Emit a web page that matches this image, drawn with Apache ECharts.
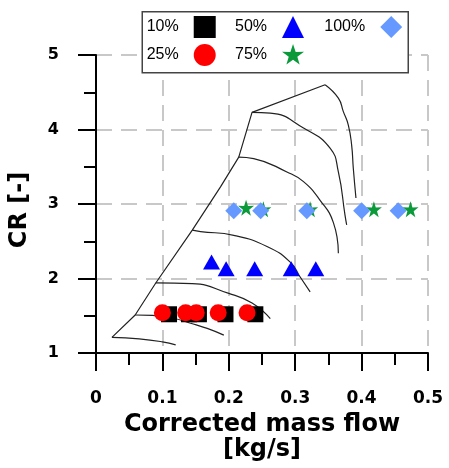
<!DOCTYPE html>
<html>
<head>
<meta charset="utf-8">
<script src="https://cdn.jsdelivr.net/npm/echarts@6/dist/echarts.min.js"></script>
<style>html,body{margin:0;padding:0;background:#fff;}#c{width:449px;height:468px;}</style>
</head>
<body>
<div id="c"></div>
<script>
// Tick settings
const xTicks = [0, 0.1, 0.2, 0.3, 0.4, 0.5];
const yTicks = [1, 2, 3, 4, 5];

// Operating points (mass flow [kg/s], CR [-])
const pts10 = [[0.11, 1.52], [0.14, 1.52], [0.155, 1.52], [0.195, 1.52], [0.24, 1.52]];
const pts25 = [[0.1, 1.54], [0.135, 1.54], [0.151, 1.54], [0.184, 1.54], [0.2275, 1.54]];
const pts50 = [[0.174, 2.22], [0.196, 2.13], [0.239, 2.13], [0.294, 2.13], [0.331, 2.13]];
const pts75 = [[0.226, 2.95], [0.252, 2.93], [0.3225, 2.93], [0.4185, 2.93], [0.4737, 2.93]];
const pts100 = [[0.2075, 2.91], [0.248, 2.91], [0.3175, 2.91], [0.40, 2.91], [0.455, 2.91]];

// Compressor map lines
const surgeLine = [[0.024, 1.21], [0.059, 1.51], [0.09, 1.94], [0.145, 2.65], [0.1875, 3.23], [0.215, 3.63], [0.235, 4.23], [0.345, 4.6]];
const chokeLine = [[0.345, 4.6], [0.365, 4.42], [0.3725, 4.24], [0.38, 4.06], [0.385, 3.79], [0.3875, 3.48], [0.3915, 3.08]];
const speed1 = [[0.024, 1.21], [0.065, 1.19], [0.1, 1.15], [0.12, 1.11]];
const speed2 = [[0.059, 1.51], [0.085, 1.505], [0.115, 1.47], [0.1425, 1.40], [0.1675, 1.33], [0.1925, 1.24]];
const speed3 = [[0.09, 1.94], [0.145, 1.93], [0.2, 1.8], [0.235, 1.67], [0.2625, 1.46]];
const speed4 = [[0.145, 2.65], [0.1575, 2.63], [0.2075, 2.58], [0.2575, 2.43], [0.2925, 2.22], [0.3075, 2.02], [0.3225, 1.82]];
const speed5 = [[0.215, 3.63], [0.2375, 3.61], [0.2875, 3.43], [0.3125, 3.3], [0.3375, 3.05], [0.3575, 2.75], [0.365, 2.34]];
const speed6 = [[0.235, 4.23], [0.2625, 4.22], [0.3125, 4.02], [0.3525, 3.75], [0.365, 3.43], [0.375, 2.85], [0.3775, 2.72]];

const starPath = 'path://M50,0 L61.8,35.1 L98.9,34.5 L69.1,56.7 L79.4,91.0 L50,70 L20.6,91.0 L30.9,56.7 L1.1,34.5 L38.2,35.1 Z';

const chart = echarts.init(document.getElementById('c'), null, {renderer: 'canvas'});

function lineSeries(data, smooth) {
  return {
    type: 'line', data: data, smooth: smooth, symbol: 'none', silent: true,
    lineStyle: {color: '#222', width: 1.2}, z: 1
  };
}

const legendCommon = {
  orient: 'vertical', align: 'right', itemGap: 6, itemWidth: 22, itemHeight: 22, padding: 0,
  top: 16, selectedMode: false,
  textStyle: {fontFamily: 'Liberation Sans', fontSize: 16, color: '#000', padding: [0, 10, 0, 0]}
};

chart.setOption({
  animation: false,
  backgroundColor: '#fff',
  grid: {left: 95, top: 55, width: 333, height: 298},
  graphic: [{
    type: 'rect', left: 141.5, top: 11, z: 3,
    shape: {width: 266, height: 61},
    style: {fill: '#fff', stroke: '#444', lineWidth: 1.5}
  }],
  legend: [
    Object.assign({}, legendCommon, {left: 146.7, data: [{name: '10%', icon: 'rect'}, {name: '25%', icon: 'circle'}]}),
    Object.assign({}, legendCommon, {left: 235, data: [{name: '50%', icon: 'triangle'}, {name: '75%', icon: starPath}]}),
    Object.assign({}, legendCommon, {left: 324.3, data: [{name: '100%', icon: 'diamond'}]})
  ],
  xAxis: {
    type: 'value', min: xTicks[0], max: xTicks[xTicks.length - 1], interval: 0.1,
    name: 'Corrected mass flow\n[kg/s]', nameLocation: 'middle', nameGap: 50,
    nameTextStyle: {fontFamily: 'DejaVu Sans', fontWeight: 'bold', fontSize: 24, color: '#000', lineHeight: 25},
    axisLine: {show: true, onZero: false, lineStyle: {color: '#000', width: 2}},
    axisTick: {show: true, length: 18, lineStyle: {color: '#000', width: 2}},
    minorTick: {show: true, splitNumber: 2, length: 12, lineStyle: {color: '#000', width: 2}},
    axisLabel: {margin: 37, fontFamily: 'DejaVu Sans', fontWeight: 'bold', fontSize: 17, color: '#000',
      formatter: v => String(+v.toFixed(2))},
    splitLine: {show: true, lineStyle: {color: '#c8c8c8', width: 2, type: [16, 9]}}
  },
  yAxis: {
    type: 'value', min: yTicks[0], max: yTicks[yTicks.length - 1], interval: 1,
    name: 'CR [-]', nameLocation: 'middle', nameGap: 64, nameRotate: 90,
    nameTextStyle: {fontFamily: 'DejaVu Sans', fontWeight: 'bold', fontSize: 24, color: '#000', padding: [0, 12, 0, 0]},
    axisLine: {show: true, onZero: false, lineStyle: {color: '#000', width: 2}},
    axisTick: {show: true, length: 18, lineStyle: {color: '#000', width: 2}},
    minorTick: {show: true, splitNumber: 2, length: 12, lineStyle: {color: '#000', width: 2}},
    axisLabel: {margin: 37, fontFamily: 'DejaVu Sans', fontWeight: 'bold', fontSize: 16, color: '#000'},
    splitLine: {show: true, lineStyle: {color: '#c8c8c8', width: 2, type: [16, 9]}}
  },
  series: [
    lineSeries(surgeLine, false),
    lineSeries(chokeLine, true),
    lineSeries(speed1, true),
    lineSeries(speed2, true),
    lineSeries(speed3, true),
    lineSeries(speed4, true),
    lineSeries(speed5, true),
    lineSeries(speed6, true),
    {name: '10%', type: 'scatter', data: pts10, symbol: 'rect', symbolSize: 16, itemStyle: {color: '#000', opacity: 1}, z: 3},
    {name: '25%', type: 'scatter', data: pts25, symbol: 'circle', symbolSize: 17, itemStyle: {color: '#ff0000', opacity: 1}, z: 3},
    {name: '50%', type: 'scatter', data: pts50, symbol: 'triangle', symbolSize: [17, 15], itemStyle: {color: '#0000ff', opacity: 1}, z: 3},
    {name: '75%', type: 'scatter', data: pts75, symbol: starPath, symbolSize: 16, itemStyle: {color: '#0a9a3a', opacity: 1}, z: 3},
    {name: '100%', type: 'scatter', data: pts100, symbol: 'diamond', symbolSize: 17, itemStyle: {color: '#6699ff', opacity: 1}, z: 3}
  ]
});
</script>
</body>
</html>
